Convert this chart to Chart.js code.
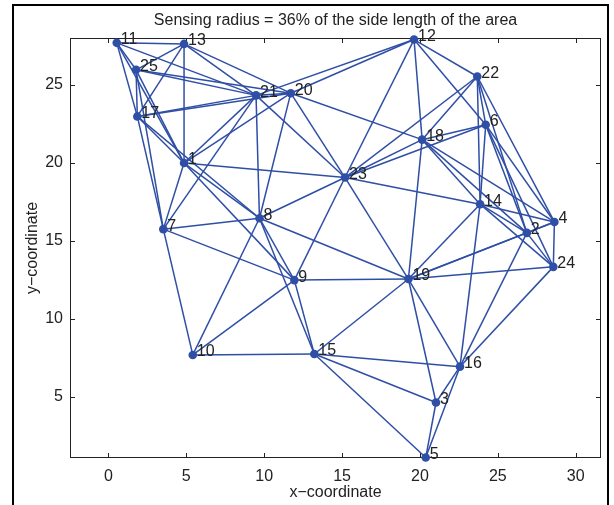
<!DOCTYPE html>
<html>
<head>
<meta charset="utf-8">
<title>Sensor network</title>
<script src="https://cdn.jsdelivr.net/npm/chart.js@4.4.1/dist/chart.umd.min.js"></script>
<style>
  html, body { margin: 0; padding: 0; background: #fff; }
  #wrap { width: 614px; height: 505px; }
</style>
</head>
<body>
<div id="wrap"><canvas id="netChart"></canvas></div>
<script>
// ! sensor nodes : number, x, y
const nodeIds = [1, 2, 3, 4, 5, 6, 7, 8, 9, 10, 11, 12, 13, 14, 15, 16, 17, 18, 19, 20, 21, 22, 23, 24, 25];
const nodeX = [4.86, 26.86, 21.03, 28.63, 20.37, 24.22, 3.53, 9.70, 11.94, 5.42, 0.54, 19.62, 4.86,
  23.86, 13.22, 22.57, 1.86, 20.14, 19.26, 11.71, 9.48, 23.68, 15.19, 28.56, 1.78];
const nodeY = [19.98, 15.50, 4.62, 16.20, 1.09, 22.44, 15.74, 16.44, 12.47, 7.67, 27.69, 27.90, 27.62,
  17.34, 7.73, 6.92, 22.97, 21.48, 12.54, 24.46, 24.32, 25.53, 19.05, 13.32, 25.96];

// ! links (pairs of node numbers that can hear each other)
const links = [
  [1, 7], [1, 8], [1, 9], [1, 11], [1, 13], [1, 17], [1, 20], [1, 21], [1, 23], [1, 25],
  [2, 4], [2, 6], [2, 14], [2, 16], [2, 18], [2, 19], [2, 22], [2, 24],
  [3, 5], [3, 15], [3, 16], [3, 19],
  [4, 6], [4, 14], [4, 18], [4, 19], [4, 22], [4, 24],
  [5, 15], [5, 16],
  [6, 12], [6, 14], [6, 18], [6, 22], [6, 23], [6, 24],
  [7, 8], [7, 9], [7, 10], [7, 17], [7, 21], [7, 25],
  [8, 9], [8, 10], [8, 15], [8, 17], [8, 19], [8, 20], [8, 21], [8, 23],
  [9, 10], [9, 15], [9, 19], [9, 23],
  [10, 15],
  [11, 13], [11, 17], [11, 21], [11, 25],
  [12, 18], [12, 20], [12, 21], [12, 22], [12, 23],
  [13, 17], [13, 20], [13, 21], [13, 25],
  [14, 16], [14, 18], [14, 19], [14, 22], [14, 23], [14, 24],
  [15, 16], [15, 19],
  [16, 19], [16, 24],
  [17, 20], [17, 21], [17, 25],
  [18, 19], [18, 20], [18, 22], [18, 23],
  [19, 23], [19, 24],
  [20, 21], [20, 23], [20, 25],
  [21, 23], [21, 25],
  [22, 23]
];

const xTicks = [0, 5, 10, 15, 20, 25, 30];
const yTicks = [5, 10, 15, 20, 25];

const blue = "#2f4fa6";
const ink = "#222222";
const font = "Liberation Sans, Arial, sans-serif";

const pt = (n) => ({ x: nodeX[n - 1], y: nodeY[n - 1] });

const datasets = [
  {
    label: "nodes",
    data: nodeIds.map(pt),
    showLine: false,
    pointRadius: 4.3,
    pointHoverRadius: 4.3,
    pointBackgroundColor: blue,
    pointBorderColor: blue,
    pointBorderWidth: 0,
    clip: false,
  },
];
links.forEach(([a, b]) => {
  datasets.push({
    label: a + "-" + b,
    data: [pt(a), pt(b)],
    showLine: true,
    borderColor: blue,
    borderWidth: 1.5,
    pointRadius: 0,
    clip: false,
  });
});

// frame, inward ticks, node numbers and titles
const decor = {
  id: "decor",
  beforeDraw(chart) {
    const c = chart.ctx;
    c.save();
    c.fillStyle = "#fff";
    c.fillRect(0, 0, chart.width, chart.height);
    c.strokeStyle = "#000";
    c.lineWidth = 2;
    c.beginPath();
    c.moveTo(13, chart.height);
    c.lineTo(13, 5);
    c.lineTo(608, 5);
    c.lineTo(608, chart.height);
    c.stroke();
    c.restore();
  },
  beforeDatasetsDraw(chart) {
    const c = chart.ctx;
    const a = chart.chartArea;
    const { x, y } = chart.scales;
    c.save();
    c.strokeStyle = ink;
    c.lineWidth = 1;
    c.strokeRect(a.left + 0.5, a.top + 0.5, a.right - a.left - 1, a.bottom - a.top - 1);
    c.beginPath();
    xTicks.forEach((v) => {
      const px = Math.round(x.getPixelForValue(v)) + 0.5;
      c.moveTo(px, a.bottom);
      c.lineTo(px, a.bottom - 5);
      c.moveTo(px, a.top);
      c.lineTo(px, a.top + 5);
    });
    yTicks.forEach((v) => {
      const py = Math.round(y.getPixelForValue(v)) + 0.5;
      c.moveTo(a.left, py);
      c.lineTo(a.left + 5, py);
      c.moveTo(a.right, py);
      c.lineTo(a.right - 5, py);
    });
    c.stroke();
    c.restore();
  },
  afterDraw(chart) {
    const c = chart.ctx;
    const a = chart.chartArea;
    const meta = chart.getDatasetMeta(0);
    c.save();
    c.fillStyle = ink;
    c.font = "16px " + font;
    c.textAlign = "left";
    c.textBaseline = "middle";
    meta.data.forEach((p, i) => {
      c.fillText(String(nodeIds[i]), p.x + 4, p.y - 3);
    });

    const cx = (a.left + a.right) / 2;
    c.textAlign = "center";
    c.fillText("Sensing radius = 36% of the side length of the area", cx, 21);
    c.fillText("x\u2212coordinate", cx, 493);
    c.translate(33, (a.top + a.bottom) / 2);
    c.rotate(-Math.PI / 2);
    c.fillText("y\u2212coordinate", 0, 0);
    c.restore();
  },
};

new Chart(document.getElementById("netChart"), {
  type: "scatter",
  data: { datasets },
  options: {
    responsive: true,
    maintainAspectRatio: false,
    animation: false,
    events: [],
    layout: { padding: { left: 0, right: 13, top: 38, bottom: 0 } },
    plugins: {
      legend: { display: false },
      title: { display: false },
      tooltip: { enabled: false },
    },
    scales: {
      x: {
        type: "linear",
        min: -2.46,
        max: 31.62,
        grid: { display: false, drawTicks: false },
        border: { display: false },
        afterBuildTicks: (s) => { s.ticks = xTicks.map((v) => ({ value: v })); },
        afterFit: (s) => { s.height = 47; },
        ticks: { color: ink, font: { family: font, size: 16 }, padding: 9, maxRotation: 0 },
      },
      y: {
        type: "linear",
        min: 1.06,
        max: 28.0,
        grid: { display: false, drawTicks: false },
        border: { display: false },
        afterBuildTicks: (s) => { s.ticks = yTicks.map((v) => ({ value: v })); },
        afterFit: (s) => { s.width = 70; },
        ticks: { color: ink, font: { family: font, size: 16 }, padding: 7 },
      },
    },
  },
  plugins: [decor],
});
</script>
</body>
</html>
